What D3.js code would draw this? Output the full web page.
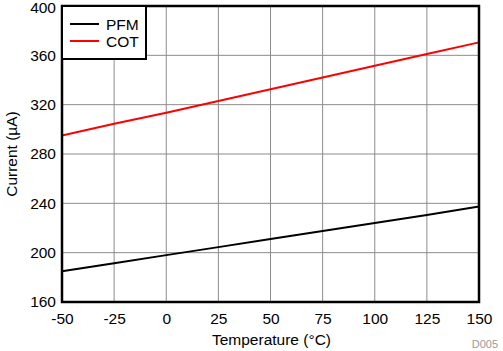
<!DOCTYPE html>
<html>
<head>
<meta charset="utf-8">
<script src="https://cdn.jsdelivr.net/npm/d3@7"></script>
<style>
  body { margin: 0; background: #fff; }
  svg { font-family: "Liberation Sans", Arial, sans-serif; display: block; }
</style>
</head>
<body>
<div id="chart"></div>
<script>
// temperature (°C) vs quiescent current (µA)
const temps = [-50, -25, 0, 25, 50, 75, 100, 125, 150];
const pfm = [185, 191.5, 198, 204.5, 211, 217.5, 224, 230.5, 237.5];
const cot = [295, 304.5, 313.5, 323, 332.5, 342, 351.5, 361, 370.5];
const xTicks = [-50, -25, 0, 25, 50, 75, 100, 125, 150];
const yTicks = [160, 200, 240, 280, 320, 360, 400];
const seriesNames = ["PFM", "COT"];
const seriesColors = ["#000000", "#ff0000"];

const W = 503, H = 351;
const M = { top: 6, right: 24, bottom: 49, left: 62 };
const iw = W - M.left - M.right, ih = H - M.top - M.bottom;
const FS = 15.5;

const svg = d3.select("#chart").append("svg").attr("width", W).attr("height", H);
const g = svg.append("g").attr("transform", `translate(${M.left},${M.top})`);

const x = d3.scaleLinear().domain([-50, 150]).range([0, iw]);
const y = d3.scaleLinear().domain([160, 400]).range([ih, 0]);

// grid
g.append("g").selectAll("line").data(xTicks).join("line")
  .attr("x1", d => x(d)).attr("x2", d => x(d)).attr("y1", 0).attr("y2", ih)
  .attr("stroke", "#8c8c8c").attr("stroke-width", 1);
g.append("g").selectAll("line").data(yTicks).join("line")
  .attr("x1", 0).attr("x2", iw).attr("y1", d => y(d)).attr("y2", d => y(d))
  .attr("stroke", "#8c8c8c").attr("stroke-width", 1);

// axes (labels only), plain hyphen for negatives
const fmt = d => String(d);
const xAx = g.append("g").attr("transform", `translate(0,${ih})`)
  .call(d3.axisBottom(x).tickValues(xTicks).tickFormat(fmt).tickSize(0).tickPadding(11));
const yAx = g.append("g")
  .call(d3.axisLeft(y).tickValues(yTicks).tickFormat(fmt).tickSize(0).tickPadding(6));
[xAx, yAx].forEach(a => {
  a.select(".domain").remove();
  a.selectAll("text").attr("font-size", FS).attr("fill", "#000")
    .attr("font-family", "Liberation Sans, Arial, sans-serif");
});
yAx.selectAll("text").filter(d => d === 400).attr("dy", "0.4em");

// series
const line = d3.line().x((d, i) => x(temps[i])).y(d => y(d));
[pfm, cot].forEach((s, k) => {
  g.append("path").datum(s).attr("d", line)
    .attr("fill", "none").attr("stroke", seriesColors[k]).attr("stroke-width", 2);
});

// frame
g.append("rect").attr("width", iw).attr("height", ih)
  .attr("fill", "none").attr("stroke", "#000").attr("stroke-width", 2.5);

// legend
const lg = g.append("g");
lg.append("rect").attr("x", 0).attr("y", 0).attr("width", 84).attr("height", 53)
  .attr("fill", "#fff").attr("stroke", "#000").attr("stroke-width", 2);
seriesNames.forEach((n, i) => {
  const yy = 18 + i * 17;
  lg.append("line").attr("x1", 8).attr("x2", 37).attr("y1", yy).attr("y2", yy)
    .attr("stroke", seriesColors[i]).attr("stroke-width", 2);
  lg.append("text").attr("x", 44).attr("y", yy + 5.5).attr("font-size", FS).text(n);
});

// axis titles
svg.append("text").attr("x", M.left + iw / 2 + 1).attr("y", 345)
  .attr("text-anchor", "middle").attr("font-size", FS).text("Temperature (°C)");
svg.append("text").attr("transform", `translate(17,${M.top + ih / 2}) rotate(-90)`)
  .attr("text-anchor", "middle").attr("font-size", FS).text("Current (µA)");
svg.append("text").attr("x", 498).attr("y", 348).attr("text-anchor", "end")
  .attr("font-size", 11).attr("fill", "#9a9a9a").text("D005");
</script>
</body>
</html>
